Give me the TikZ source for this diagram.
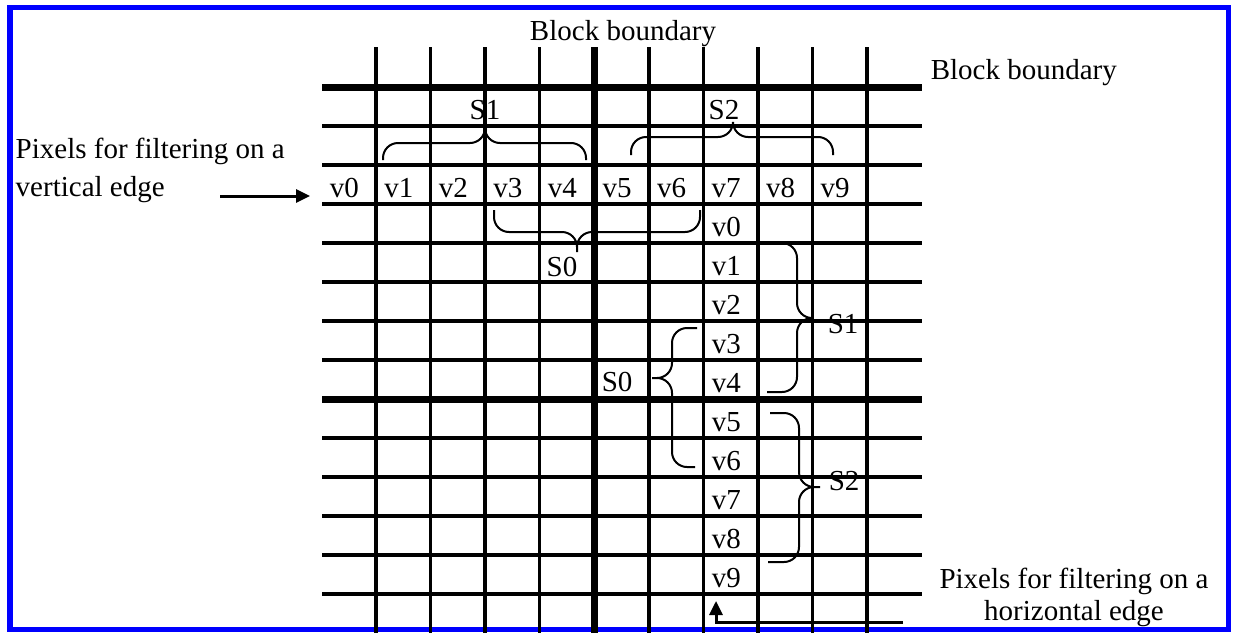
\documentclass[tikz,border=0pt]{standalone}
\usepackage{fontspec}
\setmainfont{Liberation Serif}
\usetikzlibrary{calc, arrows.meta}

\begin{document}
\begin{tikzpicture}[x=1pt, y=-1pt, line width=3.5pt,
    font=\fontsize{29}{38}\selectfont,
    thickline/.style={line width=7pt},
    lbl/.style={inner sep=0pt, anchor=base west},
    brace/.style={line width=2pt, rounded corners=15pt},
    pointer/.style={line width=3pt, -{Triangle[length=14pt, width=13pt]}}]

    % 1. Page size and the blue frame
    \useasboundingbox (0,0) rectangle (1233,632);
    \draw[blue, line width=5.5pt] (10,7.5) rectangle (1228.5,629.5);

    % 2. The pixel grid: ten columns and fourteen rows
    \foreach \i in {0,...,9}
        \draw ({376+54.55*\i},47) -- ({376+54.55*\i},640);
    \foreach \j in {0,...,13}
        \draw (322,{87+39*\j}) -- (922,{87+39*\j});

    % 3. Block boundaries drawn thicker
    \draw[thickline] (594.2,47) -- (594.2,640);
    \draw[thickline] (322,87) -- (922,87);
    \draw[thickline] (322,399) -- (922,399);
    \node[inner sep=0pt, anchor=base] (topbound) at (623,40) {Block boundary};
    \node[lbl] (rightbound) at (929,79) {Block boundary};

    % 4. Pixels across the vertical edge (one row)
    \foreach \i in {0,...,9}
        \node[lbl] (row\i) at ({328+54.55*\i},197) {v\i};

    % 5. Pixels across the horizontal edge (one column)
    \foreach \k in {0,...,9}
        \node[lbl] (col\k) at (710,{236+39*\k}) {v\k};

    % 6. Braces over the row
    \draw[brace] (383,160) |- (485,143) -- (485,128)
                 (586,160) |- (485,143) -- (485,128);
    \node[inner sep=0pt, anchor=base] (rowS1) at (485,119) {S1};
    \draw[brace] (631,155) |- (733,137) -- (733,123)
                 (833,155) |- (733,137) -- (733,123);
    \node[inner sep=0pt, anchor=base] (rowS2) at (724,119) {S2};
    \draw[brace] (494,210) |- (577,232) -- (577,252)
                 (700,210) |- (577,232) -- (577,252);
    \node[inner sep=0pt, anchor=base] (rowS0) at (562,276) {S0};

    % 7. Braces beside the column
    \draw[brace] (767,243) -| (797,318) -- (813,318)
                 (767,392) -| (797,318) -- (813,318);
    \node[lbl] (colS1) at (826,333) {S1};
    \draw[brace] (697,328) -| (672,378) -- (652,378)
                 (695,467) -| (672,378) -- (652,378);
    \node[lbl] (colS0) at (600,391) {S0};
    \draw[brace] (770,413) -| (799,487) -- (820,487)
                 (768,562) -| (799,487) -- (820,487);
    \node[lbl] (colS2) at (827,490) {S2};

    % 8. Captions with their pointers (base is the last line)
    \node[lbl, align=left] (vcap) at (14,196)
        {Pixels for filtering on a\\vertical edge};
    \coordinate (vtail) at (220,196);
    \coordinate (vhead) at (310,196);
    \draw[pointer] (vtail) -- (vhead);

    \node[inner sep=0pt, anchor=base, align=center,
          font=\fontsize{29}{32}\selectfont] (hcap) at (1074,620)
        {Pixels for filtering on a\\horizontal edge};
    \coordinate (htail) at (903,622);
    \coordinate (hhead) at (716,601);
    \draw[pointer] (htail) -| (hhead);
\end{tikzpicture}
\end{document}
